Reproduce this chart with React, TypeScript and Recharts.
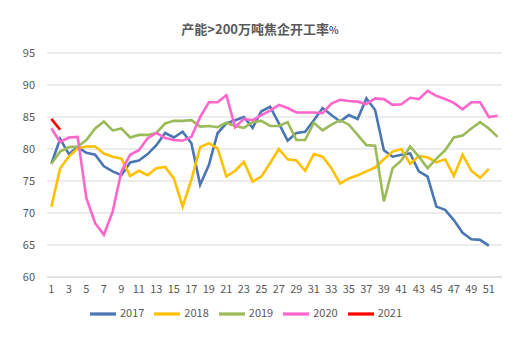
import React from "react";
import { LineChart, Line, XAxis, YAxis, CartesianGrid, Legend } from "recharts";

const weeks: number[] = Array.from({ length: 52 }, (_, i) => i + 1);
const yTicks = [60, 65, 70, 75, 80, 85, 90, 95];

const s2017: (number | null)[] = [77.7, 81.6, 79.2, 80.3, 79.4, 79.1, 77.3, 76.5, 75.9, 77.9, 78.2, 79.2, 80.6, 82.5, 81.8, 82.7, 80.9, 74.4, 77.5, 82.5, 84.0, 84.5, 85.0, 83.3, 85.9, 86.6, 84.0, 81.3, 82.5, 82.7, 84.5, 86.4, 85.3, 84.3, 85.3, 84.7, 87.9, 86.1, 79.8, 78.8, 79.1, 79.3, 76.5, 75.7, 71.0, 70.5, 68.9, 66.9, 65.9, 65.8, 64.9, null];
const s2018: (number | null)[] = [71.0, 77.0, 78.8, 80.1, 80.4, 80.4, 79.3, 78.8, 78.5, 75.8, 76.6, 75.9, 77.0, 77.2, 75.4, 71.0, 75.2, 80.3, 80.9, 80.1, 75.7, 76.6, 78.0, 74.9, 75.7, 77.8, 80.0, 78.4, 78.2, 76.6, 79.2, 78.8, 77.0, 74.6, 75.4, 75.9, 76.5, 77.1, 78.4, 79.6, 80.0, 77.7, 78.9, 78.7, 77.9, 78.4, 75.8, 79.1, 76.6, 75.5, 76.9, null];
const s2019: (number | null)[] = [77.7, 79.6, 80.3, 80.4, 81.4, 83.2, 84.3, 82.9, 83.2, 81.8, 82.2, 82.2, 82.5, 84.0, 84.4, 84.4, 84.5, 83.5, 83.6, 83.4, 84.1, 83.6, 83.3, 84.2, 84.4, 83.6, 83.6, 84.2, 81.4, 81.4, 84.1, 82.9, 83.8, 84.5, 83.8, 82.2, 80.6, 80.5, 71.8, 77.0, 78.2, 80.4, 78.8, 77.0, 78.5, 79.8, 81.8, 82.1, 83.2, 84.2, 83.2, 81.9];
const s2020: (number | null)[] = [83.2, 81.1, 81.8, 81.9, 72.3, 68.4, 66.6, 70.2, 76.5, 79.1, 79.8, 81.7, 82.5, 81.7, 81.4, 81.3, 81.9, 85.0, 87.3, 87.3, 88.4, 83.4, 84.7, 84.5, 85.3, 86.0, 86.9, 86.4, 85.7, 85.7, 85.7, 85.6, 87.1, 87.7, 87.5, 87.4, 87.0, 87.9, 87.8, 86.9, 87.0, 88.0, 87.8, 89.1, 88.3, 87.8, 87.2, 86.2, 87.3, 87.3, 85.0, 85.2];
const s2021: (number | null)[] = [84.7, 83.0];

const seriesNames = ["2017", "2018", "2019", "2020", "2021"];
const seriesColors = ["#4A76B4", "#FFC000", "#9BBB59", "#FF66CC", "#FF0000"];
const seriesValues = [s2017, s2018, s2019, s2020, s2021];

const data = weeks.map((w, i) => {
  const row: Record<string, number | null> = { week: w };
  seriesNames.forEach((n, k) => {
    const v = seriesValues[k][i];
    row[n] = v === undefined ? null : v;
  });
  return row;
});

const FONT = "'Noto Sans CJK SC', 'Noto Sans', sans-serif";

export default function App() {
  return (
    <div style={{ position: "absolute", left: 0, top: 0, width: 520, height: 338, background: "#fff", fontFamily: FONT }}>
      <div
        style={{
          position: "absolute",
          top: 19,
          left: 0,
          width: 520,
          textAlign: "center",
          fontSize: 13,
          fontWeight: 700,
          color: "#595959",
          fontFamily: FONT,
        }}
      >
        产能&gt;200万吨焦企开工率<span style={{ fontSize: 10 }}>%</span>
      </div>
      <LineChart
        width={520}
        height={338}
        data={data}
        margin={{ top: 53, right: 18, bottom: 11, left: 0 }}
      >
        <CartesianGrid vertical={false} stroke="#d9d9d9" strokeWidth={1} />
        <XAxis
          dataKey="week"
          interval={1}
          tickLine={false}
          axisLine={{ stroke: "#d9d9d9" }}
          tick={{ fill: "#595959", fontSize: 11, fontFamily: FONT }}
          padding={{ left: 4.4, right: 4.4 }}
          height={24}
        />
        <YAxis
          domain={[60, 95]}
          ticks={yTicks}
          axisLine={false}
          tickLine={false}
          width={47}
          tickMargin={6}
          tick={{ fill: "#595959", fontSize: 11, fontFamily: FONT }}
        />
        <Legend
          verticalAlign="bottom"
          iconType="plainline"
          iconSize={26}
          wrapperStyle={{ fontSize: 11, color: "#595959", fontFamily: FONT }}
          formatter={(v: string) => <span style={{ color: "#595959" }}>{v}</span>}
        />
        {seriesNames.map((n, k) => (
          <Line
            key={n}
            type="linear"
            dataKey={n}
            stroke={seriesColors[k]}
            strokeWidth={2.6}
            dot={false}
            activeDot={false}
            connectNulls={false}
            isAnimationActive={false}
          />
        ))}
      </LineChart>
    </div>
  );
}
